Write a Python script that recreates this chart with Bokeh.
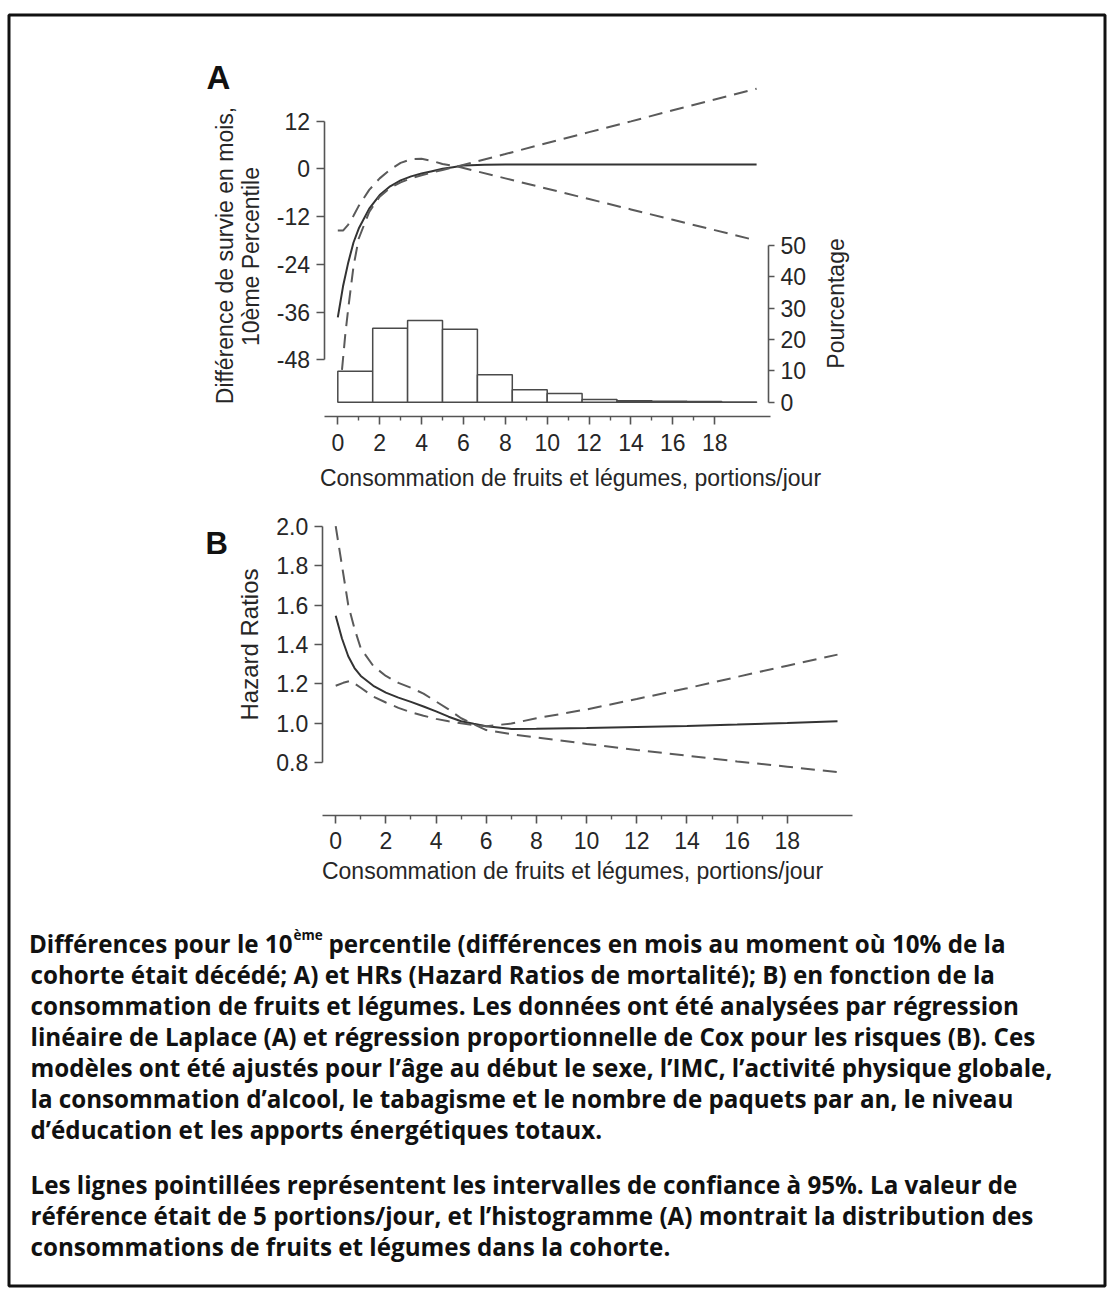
import math
from bokeh.plotting import figure
from bokeh.models import Range1d, LinearAxis, FixedTicker, PrintfTickFormatter
from bokeh.core.properties import value
from bokeh.embed import file_html
from bokeh.resources import INLINE

# ---------------- data ----------------
# Panel A : difference in survival (months), 10th percentile
a_est_x = [0, 0.25, 0.5, 0.75, 1, 1.5, 2, 2.5, 3, 3.5, 4, 4.5, 5, 5.5, 6, 7, 8, 10, 12, 14, 16, 18, 20]
a_est_y = [-37.3, -29.5, -23.5, -18.5, -15.0, -10.0, -6.6, -4.4, -2.9, -1.9, -1.2, -0.6, 0.0, 0.4, 0.8, 1.0,
           1.1, 1.1, 1.1, 1.1, 1.1, 1.1, 1.1]
a_ci1_x = [0, 0.25, 0.5, 0.75, 1, 1.5, 2, 2.5, 3, 3.5, 4, 4.5, 5, 5.7, 8, 10, 12, 14, 16, 18, 20]
a_ci1_y = [-15.5, -15.5, -14.0, -11.8, -9.3, -5.3, -2.4, -0.2, 1.5, 2.4, 2.5, 2.0, 1.2, 0.6,
           -2.4, -5.0, -7.6, -10.2, -12.8, -15.4, -18.0]
a_ci2_x = [0.2, 0.35, 0.5, 0.75, 1, 1.5, 2, 2.5, 3, 3.5, 4, 4.5, 5, 5.7, 8, 10, 12, 14, 16, 18, 20]
a_ci2_y = [-50.5, -42.0, -35.0, -24.5, -17.5, -10.8, -7.0, -4.8, -3.4, -2.4, -1.6, -0.9, -0.3, 0.6,
           3.7, 6.5, 9.2, 11.9, 14.7, 17.4, 20.1]
hist_edges = [0, 1.667, 3.333, 5, 6.667, 8.333, 10, 11.667, 13.333, 15, 16.667, 18.333, 20]
hist_pct = [9.9, 23.6, 26.1, 23.3, 8.8, 4.0, 2.8, 0.9, 0.5, 0.3, 0.2, 0.1]
a_yticks = [-48, -36, -24, -12, 0, 12]
a_xticks = [0, 2, 4, 6, 8, 10, 12, 14, 16, 18]
a_xminor = [1, 3, 5, 7, 9, 11, 13, 15, 17]
a_hticks = [0, 10, 20, 30, 40, 50]

# Panel B : hazard ratios
b_est_x = [0, 0.25, 0.5, 0.75, 1, 1.5, 2, 2.5, 3, 3.5, 4, 4.5, 5, 5.5, 6, 7, 8, 10, 12, 14, 16, 18, 20]
b_est_y = [1.545, 1.43, 1.34, 1.28, 1.24, 1.19, 1.155, 1.13, 1.108, 1.085, 1.06, 1.033, 1.01, 0.997, 0.985,
           0.971, 0.972, 0.976, 0.981, 0.986, 0.993, 1.001, 1.01]
b_ci1_x = [0, 0.25, 0.5, 0.75, 1, 1.5, 2, 2.5, 3, 3.5, 4, 4.5, 5, 5.5, 6, 7, 8, 10, 12, 14, 16, 18, 20]
b_ci1_y = [2.0, 1.80, 1.60, 1.48, 1.38, 1.29, 1.24, 1.205, 1.18, 1.15, 1.11, 1.07, 1.025, 0.995, 0.965,
           0.944, 0.928, 0.895, 0.864, 0.835, 0.806, 0.779, 0.752]
b_ci2_x = [0, 0.3, 0.6, 1, 1.5, 2, 2.5, 3, 3.5, 4, 4.5, 5, 5.5, 6, 7, 8, 10, 12, 14, 16, 18, 20]
b_ci2_y = [1.19, 1.205, 1.215, 1.18, 1.135, 1.105, 1.078, 1.055, 1.038, 1.022, 1.01, 1.0, 0.99, 0.985,
           0.998, 1.025, 1.07, 1.123, 1.177, 1.235, 1.292, 1.348]
b_yticks = [0.8, 1.0, 1.2, 1.4, 1.6, 1.8, 2.0]
b_xticks = [0, 2, 4, 6, 8, 10, 12, 14, 16, 18]
b_xminor = [1, 3, 5, 7, 9, 11, 13, 15, 17]

caption_p1 = [
    "cohorte était décédé; A) et HRs (Hazard Ratios de mortalité); B) en fonction de la",
    "consommation de fruits et légumes. Les données ont été analysées par régression",
    "linéaire de Laplace (A) et régression proportionnelle de Cox pour les risques (B). Ces",
    "modèles ont été ajustés pour l’âge au début le sexe, l’IMC, l’activité physique globale,",
    "la consommation d’alcool, le tabagisme et le nombre de paquets par an, le niveau",
    "d’éducation et les apports énergétiques totaux.",
]
caption_p2 = [
    "Les lignes pointillées représentent les intervalles de confiance à 95%. La valeur de",
    "référence était de 5 portions/jour, et l’histogramme (A) montrait la distribution des",
    "consommations de fruits et légumes dans la cohorte.",
]

# ---------------- layout ----------------
W, H = 1110, 1295
OFF = 0
AX0, AXS = 337.3, 20.94     # page x of x=0, px per unit (panel A)
AY0, AYS = 168.3, 3.983     # page y of y=0, px per unit (panel A)
AH0, AHS = 401.7, 3.133     # page y of 0 %, px per % (histogram)
BX0, BXS = 335.2, 25.09
BY0, BYS = 722.7 + 197.0, 197.0  # page y of HR=0

def xr(px0, ppu):
    f0 = px0 - OFF
    return Range1d(-f0 / ppu, (W - f0) / ppu)

def yr(py0, ppu):
    f0 = py0 - OFF
    return Range1d((f0 - H) / ppu, f0 / ppu)

def dx(page_x, px0, ppu):
    return (page_x - px0) / ppu

def dy(page_y, py0, ppu):
    return (py0 - page_y) / ppu

def fx(page_x):
    return page_x - OFF

def fy(page_y):
    return page_y - OFF

p = figure(width=W, height=H, x_range=Range1d(0, W), y_range=Range1d(H, 0),
           x_axis_type=None, y_axis_type=None, output_backend="svg",
           toolbar_location=None, min_border=0, outline_line_color=None)
p.extra_x_ranges = {"ax": xr(AX0, AXS), "bx": xr(BX0, BXS)}
p.extra_y_ranges = {"ay": yr(AY0, AYS), "ah": yr(AH0, AHS), "by": yr(BY0, BYS)}

FONT = "Liberation Sans"
TICK_COL = "#262626"
AX_COL = "#555555"

def style_axis(ax, size="23px"):
    ax.axis_line_color = AX_COL
    ax.axis_line_width = 1.6
    ax.major_tick_line_color = AX_COL
    ax.major_tick_line_width = 1.6
    ax.minor_tick_line_color = AX_COL
    ax.minor_tick_line_width = 1.4
    ax.major_tick_in = 0
    ax.minor_tick_in = 0
    ax.major_label_text_font = FONT
    ax.major_label_text_font_size = size
    ax.major_label_text_color = TICK_COL

# border
p.quad(left=[fx(8.5)], right=[fx(1104.5)], top=[fy(14.5)], bottom=[fy(1285.5)],
       fill_color=None, line_color="#111111", line_width=3)

# ---- panel A ----
p.quad(left=hist_edges[:-1], right=hist_edges[1:], bottom=[0] * len(hist_pct), top=hist_pct,
       x_range_name="ax", y_range_name="ah", fill_color="white",
       line_color="#4a4a4a", line_width=1.5)
p.line(a_est_x, a_est_y, x_range_name="ax", y_range_name="ay", line_color="#333333", line_width=2)
p.line(a_ci1_x, a_ci1_y, x_range_name="ax", y_range_name="ay", line_color="#5a5a5a",
       line_width=2, line_dash="14 8")
p.line(a_ci2_x, a_ci2_y, x_range_name="ax", y_range_name="ay", line_color="#5a5a5a",
       line_width=2, line_dash="14 8")

axA_l = LinearAxis(x_range_name="ax", y_range_name="ay",
                   fixed_location=dx(323.5, AX0, AXS), bounds=(-48, 12),
                   ticker=FixedTicker(ticks=a_yticks),
                   formatter=PrintfTickFormatter(format="%d"))
style_axis(axA_l)
axA_l.major_tick_out = 8
axA_l.major_label_standoff = 6
p.add_layout(axA_l, "left")

axA_b = LinearAxis(x_range_name="ax", y_range_name="ay",
                   fixed_location=dy(416, AY0, AYS),
                   bounds=(dx(323.5, AX0, AXS), dx(770, AX0, AXS)),
                   ticker=FixedTicker(ticks=a_xticks, minor_ticks=a_xminor),
                   formatter=PrintfTickFormatter(format="%d"))
style_axis(axA_b)
axA_b.major_tick_out = 8
axA_b.minor_tick_out = 4
axA_b.major_label_standoff = 9
p.add_layout(axA_b, "below")

axA_r = LinearAxis(x_range_name="ax", y_range_name="ah",
                   fixed_location=dx(768, AX0, AXS), bounds=(0, 50),
                   ticker=FixedTicker(ticks=a_hticks),
                   formatter=PrintfTickFormatter(format="%d"))
style_axis(axA_r)
axA_r.major_tick_out = 6
axA_r.major_label_standoff = 6
p.add_layout(axA_r, "right")

# ---- panel B ----
p.line(b_est_x, b_est_y, x_range_name="bx", y_range_name="by", line_color="#333333", line_width=2)
p.line(b_ci1_x, b_ci1_y, x_range_name="bx", y_range_name="by", line_color="#5a5a5a",
       line_width=2, line_dash="14 8")
p.line(b_ci2_x, b_ci2_y, x_range_name="bx", y_range_name="by", line_color="#5a5a5a",
       line_width=2, line_dash="14 8")

axB_l = LinearAxis(x_range_name="bx", y_range_name="by",
                   fixed_location=dx(321.7, BX0, BXS), bounds=(0.8, 2.0),
                   ticker=FixedTicker(ticks=b_yticks),
                   formatter=PrintfTickFormatter(format="%.1f"))
style_axis(axB_l)
axB_l.major_tick_out = 8
axB_l.major_label_standoff = 6
p.add_layout(axB_l, "left")

axB_b = LinearAxis(x_range_name="bx", y_range_name="by",
                   fixed_location=dy(814.5, BY0, BYS),
                   bounds=(dx(321.7, BX0, BXS), dx(851.7, BX0, BXS)),
                   ticker=FixedTicker(ticks=b_xticks, minor_ticks=b_xminor),
                   formatter=PrintfTickFormatter(format="%d"))
style_axis(axB_b)
axB_b.major_tick_out = 8
axB_b.minor_tick_out = 4
axB_b.major_label_standoff = 9
p.add_layout(axB_b, "below")

# ---- titles / labels ----
def txt(x, y, s, size, angle=0.0, align="center", baseline="middle", bold=False,
        color="#262626", font=FONT):
    p.text(x=[fx(x)], y=[fy(y)], text=[s], angle=angle, text_align=align,
           text_baseline=baseline, text_font=value(font), text_font_size=size,
           text_font_style="bold" if bold else "normal", text_color=color)

txt(206, 77, "A", "33px", align="left", baseline="alphabetic", bold=True, color="#111111")
txt(205, 543, "B", "31px", align="left", baseline="alphabetic", bold=True, color="#111111")
txt(224, 255, "Différence de survie en mois,", "23px", angle=math.pi / 2)
txt(250, 256, "10ème Percentile", "23px", angle=math.pi / 2)
txt(835, 303, "Pourcentage", "23px", angle=math.pi / 2)
txt(570, 477, "Consommation de fruits et légumes, portions/jour", "23px")
txt(249, 644, "Hazard Ratios", "24px", angle=math.pi / 2)
txt(572, 870, "Consommation de fruits et légumes, portions/jour", "23px")

# ---- caption ----
CFONT = "Open Sans"
CSIZE = "24.2px"
CCOL = "#111111"
txt(292, 943, "Différences pour le 10", CSIZE, align="right", baseline="alphabetic",
    bold=True, color=CCOL, font=CFONT)
txt(293, 934, "ème", "13.5px", align="left", baseline="alphabetic",
    bold=True, color=CCOL, font=CFONT)
txt(328, 943, "percentile (différences en mois au moment où 10% de la", CSIZE, align="left",
    baseline="alphabetic", bold=True, color=CCOL, font=CFONT)
for i, line in enumerate(caption_p1):
    txt(30, 974 + 31 * i, line, CSIZE, align="left", baseline="alphabetic",
        bold=True, color=CCOL, font=CFONT)
for i, line in enumerate(caption_p2):
    txt(30, 1184 + 31 * i, line, CSIZE, align="left", baseline="alphabetic",
        bold=True, color=CCOL, font=CFONT)

open("out.html", "w").write(file_html(p, INLINE))
